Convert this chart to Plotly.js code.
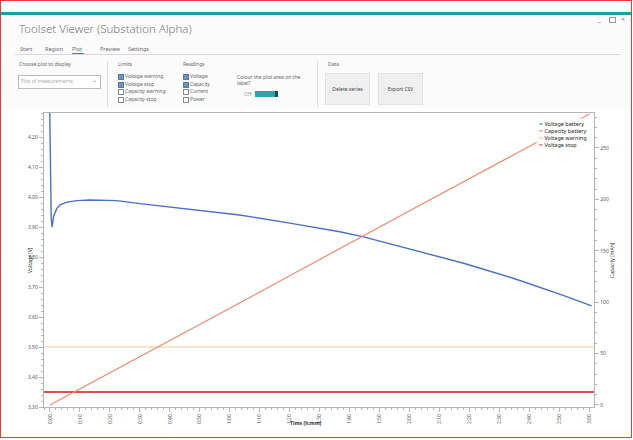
<!DOCTYPE html>
<html>
<head>
<meta charset="utf-8">
<script src="https://cdn.plot.ly/plotly-3.0.1.min.js"></script>
<style>
  html,body{margin:0;padding:0;background:#fff;}
  body{width:633px;height:440px;position:relative;overflow:hidden;font-family:"Noto Sans","Open Sans",sans-serif;color:#555;}
  .abs{position:absolute;white-space:nowrap;}
  #frame{position:absolute;left:0;top:0;width:630px;height:436px;border:1px solid #e83a3a;}
  #teal{position:absolute;left:1px;top:12px;width:630px;height:3px;background:#1c9ea6;}
  #app{position:absolute;left:1px;top:15px;width:630px;height:93px;background:#fcfbfc;}
  .t6{font-size:5px;color:#666;}
  .cb{position:absolute;width:4px;height:4px;border:0.6px solid #888;background:#fff;}
  .cb.on{background:#6f93bd;border-color:#5a7aa0;}
  .btn{position:absolute;background:#efefef;border:0.6px solid #e2e2e2;font-size:5px;color:#444;display:flex;align-items:center;justify-content:center;}
  #plot{position:absolute;left:0;top:0;width:633px;height:440px;}
</style>
</head>
<body>
<div id="teal"></div>
<div id="app"></div>
<div class="abs" style="left:19px;top:21px;font-size:11.5px;color:#777;font-weight:300;">Toolset Viewer (Substation Alpha)</div>
<div class="abs" style="left:598px;top:15px;font-size:7px;color:#888;">_</div>
<div class="abs" style="left:609px;top:17px;width:5px;height:4px;border:0.8px solid #999;"></div>
<div class="abs" style="left:621px;top:15px;font-size:7px;color:#888;">×</div>
<div class="abs t6" style="left:20px;top:45px;font-size:5.5px;">Start</div>
<div class="abs t6" style="left:45px;top:45px;font-size:5.5px;">Region</div>
<div class="abs t6" style="left:72px;top:45px;font-size:5.5px;">Plot</div>
<div class="abs t6" style="left:100px;top:45px;font-size:5.5px;">Preview</div>
<div class="abs t6" style="left:128px;top:45px;font-size:5.5px;">Settings</div>
<div class="abs" style="left:15px;top:54px;width:605px;height:1px;background:#d8d8d8;"></div>
<div class="abs" style="left:72px;top:53px;width:12px;height:1px;background:#1c9ea6;"></div>

<div class="abs t6" style="left:19px;top:61px;">Choose plot to display</div>
<div class="abs" style="left:18px;top:75px;width:81px;height:12px;border:0.7px solid #bbb;background:#fff;"></div>
<div class="abs t6" style="left:21px;top:78px;color:#aaa;">Plot of measurements</div>
<div class="abs" style="left:92px;top:76px;font-size:6px;color:#888;">⌄</div>
<div class="abs" style="left:107px;top:61px;width:1px;height:46px;background:#ddd;"></div>

<div class="abs t6" style="left:118px;top:61px;">Limits</div>
<div class="cb on" style="left:118px;top:74px;"></div><div class="abs t6" style="left:125px;top:73px;">Voltage warning</div>
<div class="cb on" style="left:118px;top:82px;"></div><div class="abs t6" style="left:125px;top:81px;">Voltage stop</div>
<div class="cb" style="left:118px;top:89px;"></div><div class="abs t6" style="left:125px;top:88px;">Capacity warning</div>
<div class="cb" style="left:118px;top:97px;"></div><div class="abs t6" style="left:125px;top:96px;">Capacity stop</div>

<div class="abs t6" style="left:183px;top:61px;">Readings</div>
<div class="cb on" style="left:183px;top:74px;"></div><div class="abs t6" style="left:190px;top:73px;">Voltage</div>
<div class="cb on" style="left:183px;top:82px;"></div><div class="abs t6" style="left:190px;top:81px;">Capacity</div>
<div class="cb" style="left:183px;top:89px;"></div><div class="abs t6" style="left:190px;top:88px;">Current</div>
<div class="cb" style="left:183px;top:97px;"></div><div class="abs t6" style="left:190px;top:96px;">Power</div>

<div class="abs t6" style="left:237px;top:74px;line-height:6px;">Colour the plot area on the<br>label?</div>
<div class="abs t6" style="left:244px;top:91px;color:#999;">Off</div>
<div class="abs" style="left:255px;top:91px;width:23px;height:6px;background:#2aa4ad;"></div>
<div class="abs" style="left:275px;top:91px;width:3px;height:6px;background:#1d4e57;"></div>
<div class="abs" style="left:317px;top:61px;width:1px;height:46px;background:#ddd;"></div>

<div class="abs t6" style="left:328px;top:61px;">Data</div>
<div class="btn" style="left:325px;top:73px;width:43px;height:30px;">Delete series</div>
<div class="btn" style="left:378px;top:73px;width:43px;height:30px;">Export CSV</div>

<div id="plot"></div>
<div id="frame"></div>

<script>
// ---- data ----
const timeRange = [-2, 181.5];                       // minutes
const voltageTime = [-0.3, 0.4, 0.7, 1.2, 2.3, 3.5, 5.7, 9, 13.3, 22.3, 30, 46.7, 63.3, 80, 96.7, 104.3, 121, 137.7, 154.3, 171, 180.7];
const voltage     = [4.45, 3.93, 3.90, 3.935, 3.962, 3.975, 3.983, 3.988, 3.99, 3.988, 3.978, 3.958, 3.94, 3.913, 3.884, 3.868, 3.824, 3.78, 3.73, 3.673, 3.637];
const capacityTime = [0, 60, 120, 180];
const capacity     = [0, 94, 189, 283];               // mAh
const voltageWarning = 3.50;
const voltageStop    = 3.35;
const xTickVals  = [0,10,20,30,40,50,60,70,80,90,100,110,120,130,140,150,160,170,180];
const xTickText  = ["0:00","0:10","0:20","0:30","0:40","0:50","1:00","1:10","1:20","1:30","1:40","1:50","2:00","2:10","2:20","2:30","2:40","2:50","3:00"];
const seriesNames = ["Voltage battery","Capacity battery","Voltage warning","Voltage stop"];
const seriesColors = ["#4a6fc3","#e98a6f","#f3c98f","#d9534f"];

const traces = [
  {x: voltageTime, y: voltage, mode:'lines', name: seriesNames[0], line:{color:seriesColors[0], width:1.4}, yaxis:'y'},
  {x: capacityTime, y: capacity, mode:'lines', name: seriesNames[1], line:{color:seriesColors[1], width:1.2}, yaxis:'y2'},
  {x: timeRange, y: [voltageWarning, voltageWarning], mode:'lines', name: seriesNames[2], line:{color:seriesColors[2], width:1.2}, yaxis:'y'},
  {x: timeRange, y: [voltageStop, voltageStop], mode:'lines', name: seriesNames[3], line:{color:seriesColors[3], width:1.8}, yaxis:'y'}
];

const axisCol = '#b5b5b5';
const fontFam = '"Noto Sans", "Open Sans", sans-serif';
const legendText = seriesNames.map((n,i)=>'<span style="color:'+seriesColors[i]+'">━</span> '+n).join('<br>');

const layout = {
  width:633, height:440,
  margin:{l:44, r:39, t:113, b:33},
  paper_bgcolor:'rgba(0,0,0,0)', plot_bgcolor:'#fff',
  showlegend:false,
  font:{family:fontFam, size:5, color:'#555'},
  xaxis:{range:timeRange, tickvals:xTickVals, ticktext:xTickText, tickangle:-90,
         showline:true, linecolor:axisCol, linewidth:1.2, mirror:true, showgrid:false, zeroline:false,
         ticks:'outside', ticklen:4, tickcolor:axisCol, tickfont:{size:5, color:'#555'},
         minor:{ticks:'outside', ticklen:2, dtick:2, tickcolor:axisCol}},
  yaxis:{range:[3.30, 4.28], dtick:0.1, tickformat:'.2f', showline:true, linecolor:axisCol, linewidth:1.2,
         showgrid:false, zeroline:false, ticks:'outside', ticklen:4, tickcolor:axisCol, tickfont:{size:5, color:'#555'},
         minor:{ticks:'outside', ticklen:2, dtick:0.02, tickcolor:axisCol}},
  yaxis2:{range:[-2, 284], dtick:50, overlaying:'y', side:'right', showline:true, linecolor:axisCol, linewidth:1.2,
          showgrid:false, zeroline:false, ticks:'outside', ticklen:4, tickcolor:axisCol, tickfont:{size:5, color:'#555'},
          minor:{ticks:'outside', ticklen:2, dtick:10, tickcolor:axisCol}},
  annotations:[
    {xref:'paper', yref:'paper', x:(306-44)/550, y:-(428-407)/294, text:'<b>Time [h:mm]</b>', showarrow:false, font:{size:5, color:'#333'}},
    {xref:'paper', yref:'paper', x:(25-44)/550, y:0.5, text:'Voltage [V]', textangle:-90, showarrow:false, font:{size:5, color:'#333'}},
    {xref:'paper', yref:'paper', x:(617-44)/550, y:0.5, text:'Capacity [mAh]', textangle:-90, showarrow:false, font:{size:5, color:'#333'}},
    {xref:'paper', yref:'paper', x:(536-44)/550, y:(407-118)/294, xanchor:'left', yanchor:'top', align:'left',
     text:legendText, showarrow:false, font:{size:5.5, color:'#222'}, bgcolor:'rgba(255,255,255,0.85)'}
  ]
};

Plotly.newPlot('plot', traces, layout, {displayModeBar:false, staticPlot:true});
</script>
</body>
</html>
